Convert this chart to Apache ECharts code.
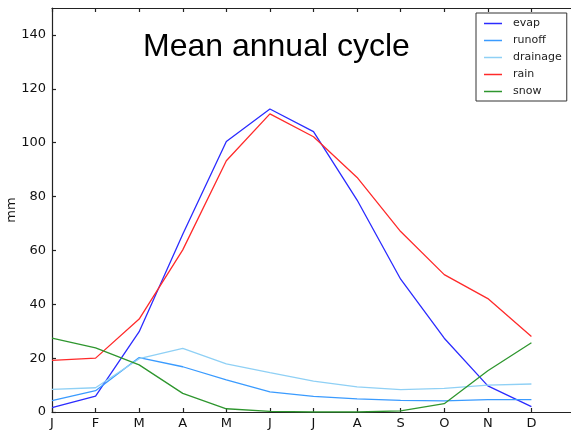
<!DOCTYPE html>
<html>
<head>
<meta charset="utf-8">
<script src="https://cdn.jsdelivr.net/npm/echarts@6/dist/echarts.min.js"></script>
<style>html,body{margin:0;padding:0;background:#fff}#c{width:571px;height:431px}</style>
</head>
<body>
<div id="c"></div>
<script>
var months = ['J','F','M','A','M','J','J','A','S','O','N','D'];
var evap     = [1.6, 5.9, 29.8, 66.0, 100.4, 112.5, 104.1, 78.7, 49.3, 27.4, 9.7, 2.0];
var runoff   = [4.2, 7.9, 20.2, 16.8, 11.9, 7.5, 5.8, 4.9, 4.3, 4.1, 4.6, 4.6];
var drainage = [8.4, 9.0, 19.8, 23.6, 17.9, 14.6, 11.5, 9.3, 8.3, 8.8, 10.0, 10.4];
var rain     = [19.2, 20.0, 34.5, 60.2, 93.3, 110.7, 102.2, 87.1, 67.0, 51.0, 42.1, 28.0];
var snow     = [27.4, 23.8, 17.5, 6.9, 1.2, 0.2, 0.0, 0.0, 0.4, 3.1, 15.3, 25.7];
var yTicks = [0, 20, 40, 60, 80, 100, 120, 140];

function pts(arr){ return arr.map(function(v,i){ return [i, v]; }); }
var font = 'DejaVu Sans';
var axisLineStyle = {color:'#222', width:1.2};

var seriesDefs = [
  ['evap', evap, '#2b2bff'],
  ['runoff', runoff, '#3a9bff'],
  ['drainage', drainage, '#8fd0f5'],
  ['rain', rain, '#ff2a2a'],
  ['snow', snow, '#2e962e']
];

var chart = echarts.init(document.getElementById('c'), null, {renderer:'canvas'});
chart.setOption({
  animation:false,
  backgroundColor:'#fff',
  grid:{left:52, top:8, width:523, height:404, containLabel:false, outerBoundsMode:'none'},
  graphic:[{
    type:'text', left:143, top:31,
    style:{text:'Mean annual cycle', font:'32px "Liberation Sans", Arial, sans-serif', fill:'#000'}
  }],
  legend:{
    orient:'vertical', left:476, top:13,
    padding:[2,5,1,8],
    itemGap:0, itemWidth:18, itemHeight:1.5,
    icon:'rect',
    borderColor:'#333', borderWidth:1, backgroundColor:'#fff',
    textStyle:{fontFamily:font, fontSize:11, color:'#222', lineHeight:17, padding:[0,0,0,6]},
    data:seriesDefs.map(function(s){return s[0];})
  },
  xAxis:[{
    type:'value', min:0, max:12, interval:1, position:'bottom',
    axisLine:{show:true, onZero:false, lineStyle:axisLineStyle},
    axisTick:{show:true, inside:true, length:4, lineStyle:axisLineStyle},
    axisLabel:{fontFamily:font, fontSize:13, color:'#111', margin:5,
      formatter:function(v){ return months[v] || ''; }},
    splitLine:{show:false}
  },{
    type:'value', min:0, max:12, interval:1, position:'top',
    axisLine:{show:true, onZero:false, lineStyle:axisLineStyle},
    axisTick:{show:true, inside:true, length:4, lineStyle:axisLineStyle},
    axisLabel:{show:false}, splitLine:{show:false}
  }],
  yAxis:[{
    type:'value', min:0, max:150, interval:20, position:'left',
    name:'mm', nameLocation:'middle', nameGap:34, nameRotate:90, nameMoveOverlap:false,
    nameTextStyle:{fontFamily:font, fontSize:13, color:'#111'},
    axisLine:{show:true, onZero:false, lineStyle:axisLineStyle},
    axisTick:{show:true, inside:true, length:4, lineStyle:axisLineStyle},
    axisLabel:{fontFamily:font, fontSize:13, color:'#111', margin:6, showMaxLabel:false,
      formatter:function(v){ return yTicks.indexOf(v) >= 0 ? String(v) : ''; }},
    splitLine:{show:false}
  },{
    type:'value', min:0, max:150, interval:20, position:'right',
    axisLine:{show:true, onZero:false, lineStyle:axisLineStyle},
    axisTick:{show:true, inside:true, length:4, lineStyle:axisLineStyle},
    axisLabel:{show:false}, splitLine:{show:false}
  }],
  series:seriesDefs.map(function(s){
    return {
      name:s[0], type:'line', data:pts(s[1]), xAxisIndex:0, yAxisIndex:0,
      showSymbol:false, symbol:'none', color:s[2],
      lineStyle:{color:s[2], width:1.3}
    };
  })
});
</script>
</body>
</html>
